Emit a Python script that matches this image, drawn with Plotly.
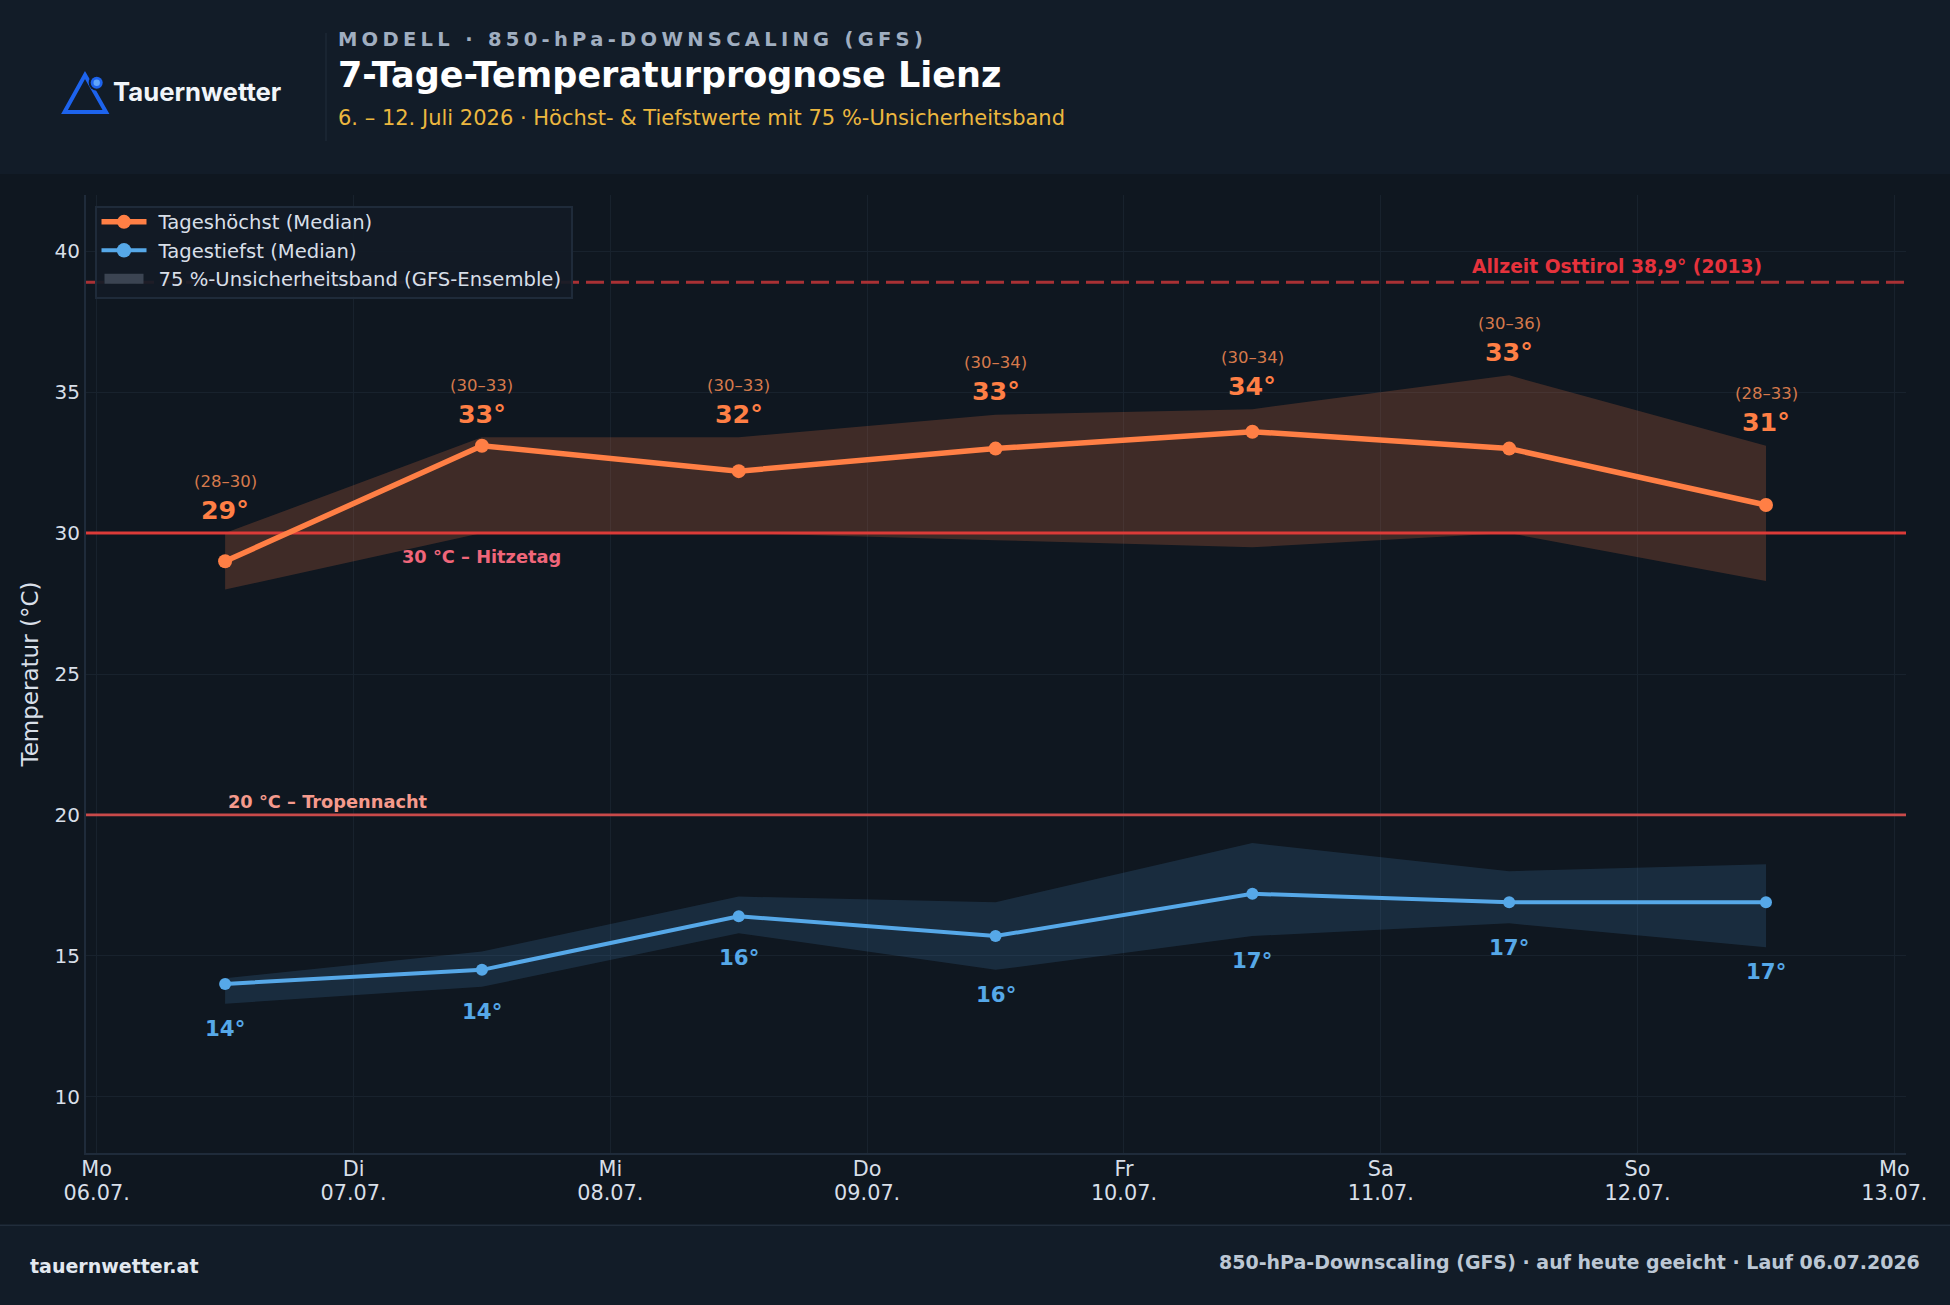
import plotly.graph_objects as go

# Forecast data, one entry per day
days = ["2026-07-06T12:00", "2026-07-07T12:00", "2026-07-08T12:00", "2026-07-09T12:00",
        "2026-07-10T12:00", "2026-07-11T12:00", "2026-07-12T12:00"]
high_median = [29.0, 33.1, 32.2, 33.0, 33.6, 33.0, 31.0]
high_upper = [30.0, 33.4, 33.4, 34.2, 34.4, 35.6, 33.1]
high_lower = [28.0, 30.0, 30.0, 29.75, 29.5, 30.0, 28.3]
low_median = [14.0, 14.5, 16.4, 15.7, 17.2, 16.9, 16.9]
low_upper = [14.2, 15.15, 17.1, 16.9, 19.0, 18.0, 18.25]
low_lower = [13.3, 13.9, 15.8, 14.5, 15.7, 16.15, 15.3]

tick_dates = ["2026-07-06", "2026-07-07", "2026-07-08", "2026-07-09",
              "2026-07-10", "2026-07-11", "2026-07-12", "2026-07-13"]
tick_labels = ["Mo<br>06.07.", "Di<br>07.07.", "Mi<br>08.07.", "Do<br>09.07.",
               "Fr<br>10.07.", "Sa<br>11.07.", "So<br>12.07.", "Mo<br>13.07."]
x_range = ["2026-07-05T23:00", "2026-07-13T01:05"]
y_ticks = [10, 15, 20, 25, 30, 35, 40]

record_value = 38.9
heat_day = 30
tropical_night = 20

# Page layout in pixels
W, H = 1950, 1305
L, R, T, B = 86, 1906, 195, 1153


def px(x):
    return (x - L) / (R - L)


def py(y):
    return (B - y) / (B - T)


PAGE = "#0f1720"
BAR = "#121c28"
RULE = "#212d3b"
GRID = "#18222d"
ORANGE = "#ff7f45"
BLUE = "#56a8e8"
LABEL = "#d8dfe8"
FONT = "DejaVu Sans"

fig = go.Figure()


def band(upper, lower, color):
    fig.add_trace(go.Scatter(
        x=days + days[::-1], y=upper + lower[::-1], mode="lines", fill="toself",
        fillcolor=color, line=dict(width=0), showlegend=False, hoverinfo="skip"))


def level(value, color, width, dash="solid"):
    fig.add_trace(go.Scatter(
        x=x_range, y=[value, value], mode="lines",
        line=dict(color=color, width=width, dash=dash), showlegend=False, hoverinfo="skip"))


band(high_upper, high_lower, "rgba(255,127,69,0.20)")
band(low_upper, low_lower, "rgba(86,168,232,0.15)")
level(record_value, "#a93134", 3, "18px,7px")
level(heat_day, "#dc3b38", 3)
level(tropical_night, "#c94a4a", 2.6)

fig.add_trace(go.Scatter(
    x=days, y=high_median, mode="lines+markers", name="Tageshöchst (Median)",
    line=dict(color=ORANGE, width=5.5), marker=dict(color=ORANGE, size=14), legendgroup="a"))
fig.add_trace(go.Scatter(
    x=days, y=low_median, mode="lines+markers", name="Tagestiefst (Median)",
    line=dict(color=BLUE, width=4), marker=dict(color=BLUE, size=12), legendgroup="b"))
# Legend entry for both ensemble bands
fig.add_trace(go.Scatter(
    x=[None, None], y=[None, None], mode="lines",
    line=dict(color="#3b4452", width=13), legendgroup="c",
    name="75 %-Unsicherheitsband (GFS-Ensemble)"))

notes = []
for d, m, up, lo in zip(days, high_median, high_upper, high_lower):
    notes.append(dict(x=d, y=up, yshift=23, text=f"{round(m)}°", yanchor="middle",
                      font=dict(family=FONT, size=25.3, color=ORANGE, weight="bold")))
    notes.append(dict(x=d, y=up, yshift=51.8, text=f"({round(lo)}–{round(up)})", yanchor="middle",
                      font=dict(family=FONT, size=16.5, color="#d67a4c")))
for d, m, lo in zip(days, low_median, low_lower):
    notes.append(dict(x=d, y=lo, yshift=-24.6, text=f"{round(m)}°", yanchor="middle",
                      font=dict(family=FONT, size=21.3, color=BLUE, weight="bold")))

notes += [
    dict(x=days[1], y=heat_day, yshift=-23, text="30 °C – Hitzetag", yanchor="middle",
         font=dict(family=FONT, size=17.8, color="#f0667a", weight="bold")),
    dict(x=days[0], y=tropical_night, yshift=13, text="20 °C – Tropennacht",
         xanchor="left", xshift=1, yanchor="middle",
         font=dict(family=FONT, size=17.8, color="#f59a8c", weight="bold")),
    dict(x=days[6], y=record_value, yshift=16, xshift=-2.5, text="Allzeit Osttirol 38,9° (2013)",
         xanchor="right", yanchor="middle",
         font=dict(family=FONT, size=18.7, color="#e6323c", weight="bold")),
]
for n in notes:
    n.update(showarrow=False, xref="x", yref="y")


def page_text(x, y, text, anchor="left", **font):
    return dict(x=px(x), y=py(y), xref="paper", yref="paper", text=text, showarrow=False,
                xanchor=anchor, yanchor="middle", borderpad=0, font=font)


notes += [
    page_text(632.5, 40, "MODELL · 850-hPa-DOWNSCALING (GFS)", anchor="center", family=FONT, size=19.5,
              color="#a0aec0", weight="bold"),
    page_text(336.5, 75, "7-Tage-Temperaturprognose Lienz", family=FONT, size=35,
              color="#ffffff", weight="bold"),
    page_text(336.5, 118.5, "6. – 12. Juli 2026 · Höchst- &amp; Tiefstwerte mit 75 %-Unsicherheitsband",
              family=FONT, size=21, color="#ecb73f"),
    page_text(112, 92, "Tauernwetter", family="Inter", size=25.7, color="#f1f5f9", weight=700),
    page_text(29, 1266, "tauernwetter.at", family=FONT, size=19, color="#e2e8f0", weight="bold"),
    page_text(1921, 1262, "850-hPa-Downscaling (GFS) · auf heute geeicht · Lauf 06.07.2026",
              anchor="right", family=FONT, size=19, color="#bcc7d4", weight="bold"),
]


def page_rect(x0, y0, x1, y1, color):
    return dict(type="rect", xref="paper", yref="paper", x0=px(x0), x1=px(x1), y0=py(y0), y1=py(y1),
                fillcolor=color, line=dict(width=0), layer="below")


def page_circle(cx, cy, r, color):
    return dict(type="circle", xref="paper", yref="paper", x0=px(cx - r), x1=px(cx + r),
                y0=py(cy - r), y1=py(cy + r), fillcolor=color, line=dict(width=0), layer="below")


triangle = f"M {px(85)} {py(75)} L {px(106)} {py(112)} L {px(64.5)} {py(112)} Z"
shapes = [
    page_rect(0, 0, W, 174, BAR),
    page_rect(0, 1225, W, H, BAR),
    page_rect(0, 1224.5, W, 1226, RULE),
    page_rect(325.5, 33, 326.5, 141, RULE),
    dict(type="path", path=triangle, xref="paper", yref="paper",
         line=dict(color="#1d63ed", width=4), layer="below"),
    page_circle(96.7, 82.7, 8, BAR),
    page_circle(96.7, 82.7, 6, "#1d63ed"),
    page_circle(96.7, 82.7, 3.2, "#60a5fa"),
]

fig.update_layout(
    width=W, height=H, margin=dict(l=L, r=W - R, t=T, b=H - B),
    paper_bgcolor=PAGE, plot_bgcolor=PAGE,
    font=dict(family=FONT, color=LABEL, size=20),
    shapes=shapes, annotations=notes, hovermode=False,
    legend=dict(x=px(94.5), y=py(200.6), xanchor="left", yanchor="top",
                bgcolor="rgba(18,27,38,0.92)", bordercolor="#1f2b3a", borderwidth=2,
                font=dict(size=19.6, color=LABEL), itemwidth=52, tracegroupgap=0),
    xaxis=dict(type="date", range=x_range, tickmode="array", tickvals=tick_dates, ticktext=tick_labels,
               showgrid=True, gridcolor=GRID, gridwidth=1, zeroline=False,
               showline=True, linecolor="#1f2b3a", linewidth=2, ticks="", ticklabelstandoff=-4,
               tickfont=dict(size=20.8, color=LABEL)),
    yaxis=dict(range=[8, 42], tickvals=y_ticks,
               showgrid=True, gridcolor=GRID, gridwidth=1, zeroline=False,
               showline=True, linecolor="#1f2b3a", linewidth=2, ticks="",
               tickfont=dict(size=20, color=LABEL),
               title=dict(text="Temperatur (°C)", font=dict(size=23, color=LABEL), standoff=9)),
)

# Final text and legend details that have no layout attribute:
# kicker letter spacing, date label leading, legend box size and key lengths
finish = """
document.querySelectorAll('.annotation-text').forEach(function (t) {
  if (t.textContent.indexOf('MODELL') === 0) { t.style.letterSpacing = '4.3px'; }
});
document.querySelectorAll('.xtick text tspan.line').forEach(function (t) {
  if (parseFloat(t.getAttribute('dy')) > 0) { t.setAttribute('dy', '1.14em'); }
});
var box = document.querySelector('.legend rect.bg');
box.setAttribute('y', parseFloat(box.getAttribute('y')) + 5);
box.setAttribute('height', parseFloat(box.getAttribute('height')) - 6.5);
box.setAttribute('width', parseFloat(box.getAttribute('width')) + 4);
document.querySelectorAll('.legend .traces').forEach(function (row, i) {
  var key = row.querySelector('.legendlines path');
  if (key) { key.setAttribute('d', i < 2 ? 'M5,0h45' : 'M8,0h39'); }
  var dot = row.querySelector('.legendpoints path');
  if (dot) { dot.setAttribute('transform', i === 1 ? 'translate(27.5,0) scale(1.2)' : 'translate(27.5,0)'); }
});
"""
fig.write_html("out.html", post_script=finish)
